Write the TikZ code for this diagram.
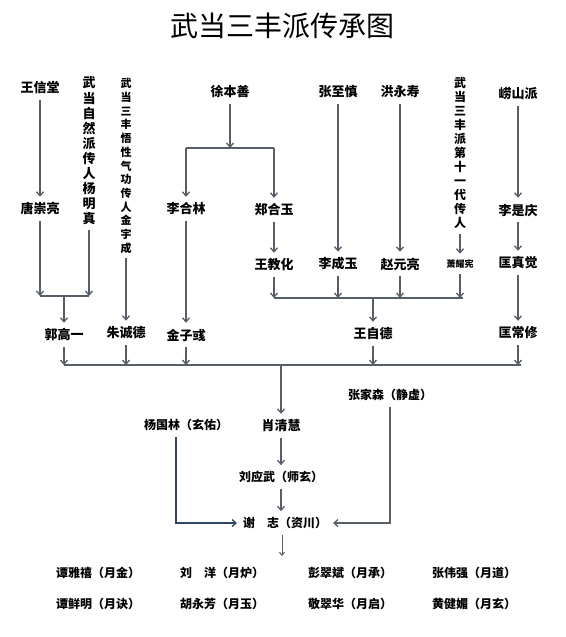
\documentclass[tikz,border=0pt]{standalone}
\usepackage{fontspec}
\newfontfamily\cjk{Noto Sans CJK SC}
\usetikzlibrary{arrows.meta,calc}
\definecolor{arrowgray}{RGB}{88,94,104}
\definecolor{navyline}{RGB}{48,68,108}
\begin{document}
\begin{tikzpicture}[x=1pt,y=-1pt,
  nm/.style={font=\cjk\bfseries\fontsize{13}{15}\selectfont, inner sep=1pt, outer sep=5pt, text=black},
  nmp/.style={font=\cjk\bfseries\fontsize{12}{14}\selectfont, inner sep=1pt, outer sep=5pt, text=black},
  vt/.style={font=\cjk\bfseries\fontsize{13}{15.1}\selectfont, align=center, inner sep=0pt, outer sep=5pt},
  ar/.style={draw=arrowgray, line width=1.3pt, -{Straight Barb[length=4pt,width=7pt]}},
  ln/.style={draw=arrowgray, line width=1.3pt},
]
\useasboundingbox (0,0) rectangle (565,637);
\fill[white] (0,0) rectangle (565,637);

% title
\node[font=\cjk\fontsize{28}{30}\selectfont] (title) at (282,26) {武当三丰派传承图};

% top row
\node[nm] (wxt) at (40,88) {王信堂};
\node[vt] (ymz) at (89,151) {武\\当\\自\\然\\派\\传\\人\\杨\\明\\真};
\node[vt, font=\cjk\bfseries\fontsize{11}{13.7}\selectfont] (jyc) at (126,166) {武\\当\\三\\丰\\悟\\性\\气\\功\\传\\人\\金\\宇\\成};
\node[nm] (xbs) at (230,92) {徐本善};
\node[nm] (zzs) at (338,92) {张至慎};
\node[nm] (hys) at (400,92) {洪永寿};
\node[vt, font=\cjk\bfseries\fontsize{12}{14}\selectfont] (d11) at (460,153) {武\\当\\三\\丰\\派\\第\\十\\一\\代\\传\\人};
\node[nm] (lsp) at (518,94) {崂山派};

% second row
\node[nm] (tcl) at (40,209) {唐崇亮};
\node[nm] (lhl) at (186,209) {李合林};
\node[nm] (zhy) at (274,210) {郑合玉};
\node[nm] (lsq) at (518,210) {李是庆};

% third row
\node[nm] (wjh) at (274,265) {王教化};
\node[nm] (lcy) at (338,264) {李成玉};
\node[nm] (zyl) at (400,264) {赵元亮};
\node[nm, font=\cjk\bfseries\fontsize{9}{11}\selectfont] (xyx) at (460,264) {萧耀宪};
\node[nm] (kzj) at (518,263) {匡真觉};

% fourth row
\node[nm] (ggy) at (64,335) {郭高一};
\node[nm] (zcd) at (126,333) {朱诚德};
\node[nm] (jzy) at (186,335) {金子彧};
\node[nm] (wzd) at (373,334) {王自德};
\node[nm] (kcx) at (518,333) {匡常修};

% lower part
\node[nmp] (zjs) at (390,395) {张家森（静虚）};
\node[nmp] (ygl) at (186,425) {杨国林（玄佑）};
\node[nm] (xqh) at (281,426) {肖清慧};
\node[nmp] (lyw) at (281,477) {刘应武（师玄）};
\node[nmp] (xz) at (285,523) {谢\quad 志（资川）};

% bottom rows
\node[nmp] (r1a) at (98,573) {谭雅禧（月金）};
\node[nmp] (r1b) at (222,573) {刘\quad 洋（月炉）};
\node[nmp] (r1c) at (350,573) {彭翠斌（月承）};
\node[nmp] (r1d) at (474,573) {张伟强（月道）};
\node[nmp] (r2a) at (98,604) {谭鲜明（月诀）};
\node[nmp] (r2b) at (222,604) {胡永芳（月玉）};
\node[nmp] (r2c) at (350,604) {敬翠华（月启）};
\node[nmp] (r2d) at (474,604) {黄健媚（月玄）};

% coordinates
\coordinate (b1l) at (40,296);
\coordinate (b1r) at (89,296);
\coordinate (b1m) at (64,296);
\coordinate (br1) at (230,148);
\coordinate (b2l) at (274,298);
\coordinate (b2r) at (463,298);
\coordinate (b2m) at (373,298);
\coordinate (b3l) at (64,365);
\coordinate (b3r) at (521,365);
\coordinate (b3m) at (281,365);
\coordinate (xzdown) at (282,556);

% connectors left
\draw[ar] (wxt) -- (tcl);
\draw[ar] (tcl) -- (tcl|-b1l);
\draw[ar] (ymz) -- (ymz|-b1r);
\draw[ln] (b1l) -- (b1r);
\draw[ar] (b1m) -- (ggy);
\draw[ar] (jyc) -- (zcd);
\draw[ar] (lhl) -- (jzy);

% 徐本善 branch
\draw[ar] (xbs) -- (br1);
\draw[ln] (lhl|-br1) -- (zhy|-br1);
\draw[ar] (lhl|-br1) -- (lhl);
\draw[ar] (zhy|-br1) -- (zhy);
\draw[ar] (zhy) -- (wjh);

% right columns
\draw[ar] (zzs) -- (lcy);
\draw[ar] (hys) -- (zyl);
\draw[ar] (d11) -- (xyx);
\draw[ar] (lsp) -- (lsq);
\draw[ar] (lsq) -- (kzj);
\draw[ar] (kzj) -- (kcx);

% second bracket
\draw[ar] (wjh) -- (wjh|-b2l);
\draw[ar] (lcy) -- (lcy|-b2l);
\draw[ar] (zyl) -- (zyl|-b2l);
\draw[ar] (xyx) -- (xyx|-b2l);
\draw[ln] (b2l) -- (b2r);
\draw[ar] (b2m) -- (wzd);

% bottom bracket
\draw[ar] (ggy) -- (ggy|-b3l);
\draw[ar] (zcd) -- (zcd|-b3l);
\draw[ar] (jzy) -- (jzy|-b3l);
\draw[ar] (wzd) -- (wzd|-b3l);
\draw[ar] (kcx) -- (kcx|-b3l);
\draw[ln] (b3l) -- (b3r);
\draw[ar] (b3m) -- (xqh);

% lower chain
\draw[ar] (xqh) -- (lyw);
\draw[ar] (lyw) -- (lyw|-xz.north);
\draw[ar, draw=navyline] ($(ygl.south)+(-10,0)$) |- (xz.west);
\draw[ar] (zjs.south) |- (xz.east);
\draw[ar, -{Straight Barb[length=3pt,width=5pt]}, line width=1pt] (xzdown|-xz.south) -- (xzdown);
\end{tikzpicture}
\end{document}
